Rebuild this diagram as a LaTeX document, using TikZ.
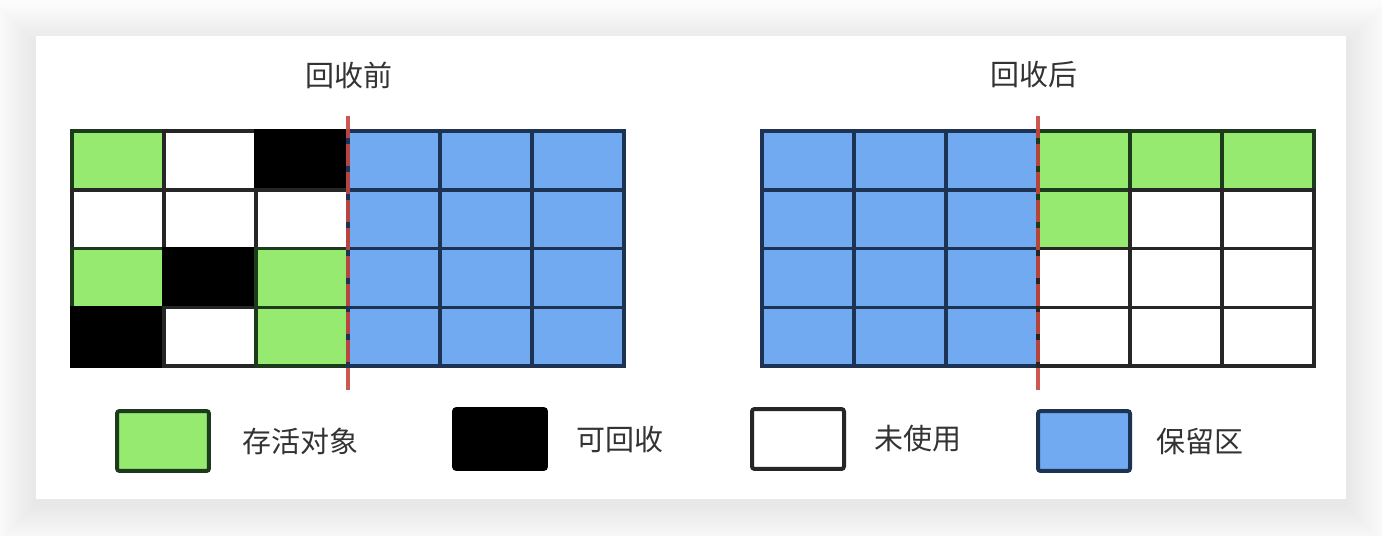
\documentclass[tikz,border=0pt]{standalone}
\usepackage{fontspec}
\usepackage{tikz}
\usetikzlibrary{positioning}
\newfontfamily\cjk{Noto Sans CJK SC}
\definecolor{livegreen}{HTML}{96EA70}
\definecolor{livedark}{HTML}{1E3A1C}
\definecolor{keepblue}{HTML}{71AAF0}
\definecolor{keepdark}{HTML}{1C3353}
\definecolor{cutred}{HTML}{C8463F}
\definecolor{textgray}{HTML}{333333}

\begin{document}
\begin{tikzpicture}[x=0.02cm, y=-0.02cm,
            cell/.style = {shape=rectangle, draw=black!85, line width=0.07cm,
                           minimum width=1.84cm, minimum height=1.175cm,
                           inner sep=0pt, outer sep=0pt},
            live/.style = {cell, fill=livegreen, draw=livedark},
            dead/.style = {cell, fill=black, draw=black},
            free/.style = {cell, fill=white},
            keep/.style = {cell, fill=keepblue, draw=keepdark},
            keybox/.style = {rounded corners=1.5pt, line width=0.08cm,
                             minimum width=1.84cm, minimum height=1.2cm},
            labeltext/.style = {text=textgray, inner sep=0pt,
                                font=\cjk\fontsize{16.5pt}{18pt}\selectfont},
            cutline/.style = {draw=cutred, line width=0.09cm,
                              dash pattern=on 0.44cm off 0.12cm, opacity=0.9}]
    \useasboundingbox (0,0) rectangle (1382,536);
    % card and its shadow
    \fill[black!1] (0,0) rectangle (1382,536);
    \foreach \s in {2,4,...,40}
        \fill[black, opacity=0.0055] (36-\s,44-\s) rectangle (1346+\s,505+\s);
    \fill[white] (36,36) rectangle (1346,499);

    % titles
    \node[labeltext] (title-before) at (349,75) {回收前};
    \node[labeltext] (title-after) at (1034,75) {回收后};

    % before collection
    \foreach \kind [count=\i from 0] in {live,free,dead,keep,keep,keep,
                                        free,free,free,keep,keep,keep,
                                        live,dead,live,keep,keep,keep,
                                        dead,free,live,keep,keep,keep} {
        \pgfmathtruncatemacro\col{mod(\i,6)}
        \pgfmathtruncatemacro\row{div(\i,6)}
        \node[\kind] (before-\i) at (118+92*\col,160.4+58.75*\row) {};
    }
    % after collection
    \foreach \kind [count=\i from 0] in {keep,keep,keep,live,live,live,
                                        keep,keep,keep,live,free,free,
                                        keep,keep,keep,free,free,free,
                                        keep,keep,keep,free,free,free} {
        \pgfmathtruncatemacro\col{mod(\i,6)}
        \pgfmathtruncatemacro\row{div(\i,6)}
        \node[\kind] (after-\i) at (808+92*\col,160.4+58.75*\row) {};
    }

    % cut lines
    \coordinate (cut-before-top) at (348,116);
    \coordinate (cut-before-bot) at (348,395);
    \coordinate (cut-after-top) at (1038,116);
    \coordinate (cut-after-bot) at (1038,395);
    \draw[cutline] (cut-before-top) -- (cut-before-bot);
    \draw[cutline] (cut-after-top) -- (cut-after-bot);

    % legend
    \node[keybox, fill=livegreen, draw=livedark] (key-live) at (163,441) {};
    \node[labeltext, right=0.62cm of key-live] (text-live) {存活对象};
    \node[keybox, fill=black, draw=black] (key-dead) at (500,439) {};
    \node[labeltext, right=0.56cm of key-dead] (text-dead) {可回收};
    \node[keybox, fill=white, draw=black!85] (key-free) at (798,439) {};
    \node[labeltext, right=0.56cm of key-free] (text-free) {未使用};
    \node[keybox, fill=keepblue, draw=keepdark] (key-keep) at (1084,441) {};
    \node[labeltext, right=0.48cm of key-keep] (text-keep) {保留区};
\end{tikzpicture}
\end{document}
